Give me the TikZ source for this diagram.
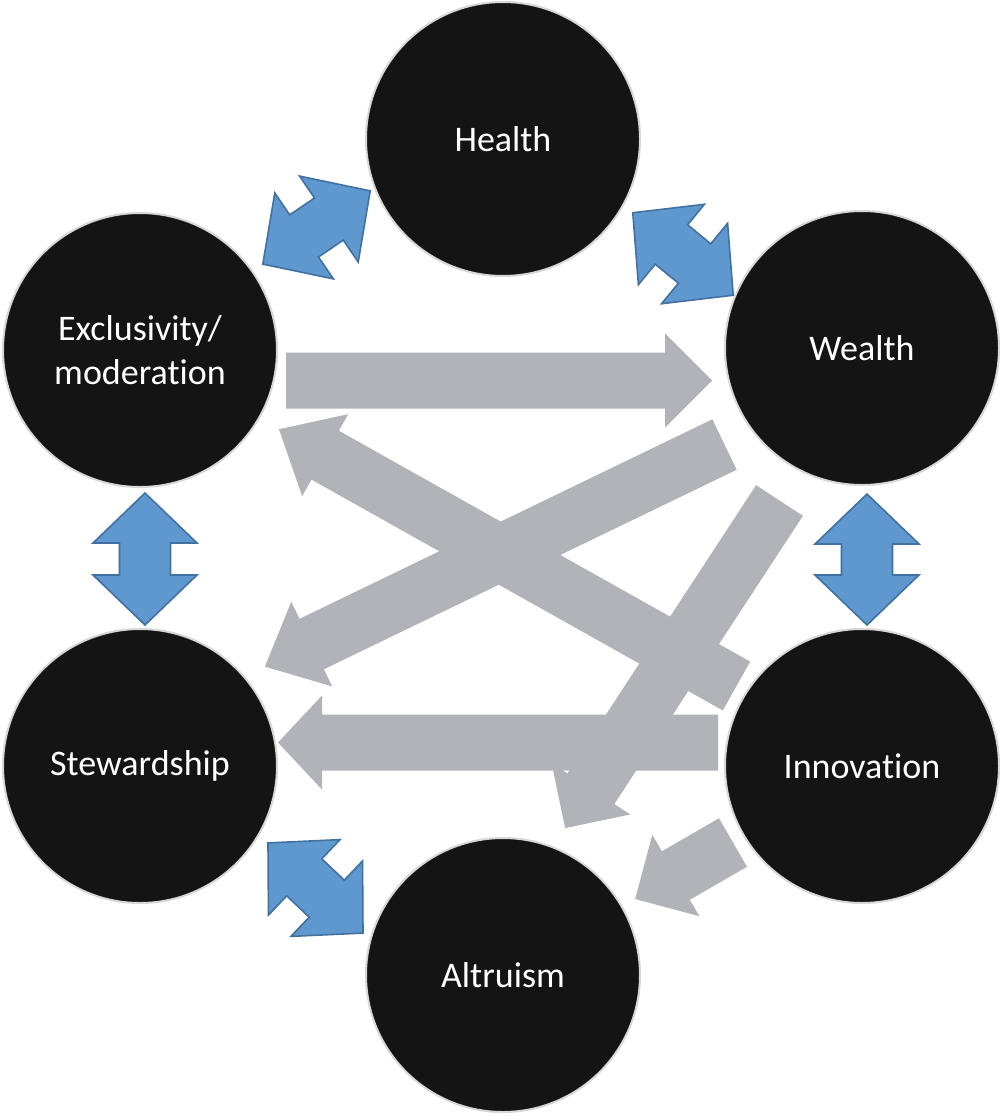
\documentclass[tikz,border=0pt]{standalone}
\usepackage{fontspec}
\setmainfont{Carlito}[Ligatures={NoCommon}]
\definecolor{circfill}{RGB}{20,20,20}
\definecolor{circline}{RGB}{215,215,215}
\definecolor{grayarr}{RGB}{178,179,184}
\definecolor{bluefill}{RGB}{95,152,207}
\definecolor{blueline}{RGB}{65,113,160}
\newcommand\grayblock[4]{% start coordinate, angle, length, head length
  \fill[grayarrow, shift={(#1)}, rotate=#2] (0,-28) -- (#3-#4,-28) -- (#3-#4,-47) -- (#3,0) -- (#3-#4,47) -- (#3-#4,28) -- (0,28) -- cycle;}
\newcommand\blueblock[3]{% center coordinate, angle, half length
  \filldraw[bluearrow, shift={(#1)}, rotate=#2] (-#3,0) -- (-#3+50,52) -- (-#3+50,25.5) -- (#3-50,25.5) -- (#3-50,52) -- (#3,0) -- (#3-50,-52) -- (#3-50,-25.5) -- (-#3+50,-25.5) -- (-#3+50,-52) -- cycle;}
\begin{document}
\begin{tikzpicture}[x=1pt,y=-1pt,
  ball/.style={circle, fill=circfill, draw=circline, line width=2pt, minimum size=274pt, inner sep=0pt,
    text=white, align=center, font=\fontsize{36}{44}\selectfont},
  grayarrow/.style={fill=grayarr},
  bluearrow/.style={fill=bluefill, draw=blueline, line width=1.6pt, line join=miter}]
\useasboundingbox[fill=white] (0,0) rectangle (1004,1117);
% circles
\node[ball] (health) at (503,139) {Health};
\node[ball] (wealth) at (862,348) {Wealth};
\node[ball] (excl) at (140,350) {Exclusivity/\\moderation};
\node[ball] (stew) at (140,766) {Stewardship};
\node[ball] (innov) at (862,766) {Innovation};
\node[ball] (altru) at (503,975) {Altruism};
% gray arrow tails
\coordinate (g1) at (286,380.5);
\coordinate (g2) at (718,742.5);
\coordinate (g3) at (724.5,444.5);
\coordinate (g4) at (736.5,686);
\coordinate (g5) at (779.5,500.5);
\coordinate (g6) at (733,842.5);
\grayblock{g1}{0}{426}{47}
\grayblock{g2}{180}{440}{44}
\grayblock{g3}{205.8}{510.5}{52}
\grayblock{g4}{150.7}{524.7}{53}
\grayblock{g5}{236.8}{391.5}{47}
\grayblock{g6}{210}{113}{47}
% blue double arrows
\coordinate (b1) at (316.5,227.5);
\coordinate (b2) at (683,254);
\coordinate (b3) at (867,559.5);
\coordinate (b4) at (315.5,888);
\coordinate (b5) at (145,559);
\blueblock{b1}{34.3}{65}
\blueblock{b2}{-39.4}{65}
\blueblock{b3}{90}{65.5}
\blueblock{b4}{-43.5}{65.5}
\blueblock{b5}{90}{66}
\end{tikzpicture}
\end{document}
